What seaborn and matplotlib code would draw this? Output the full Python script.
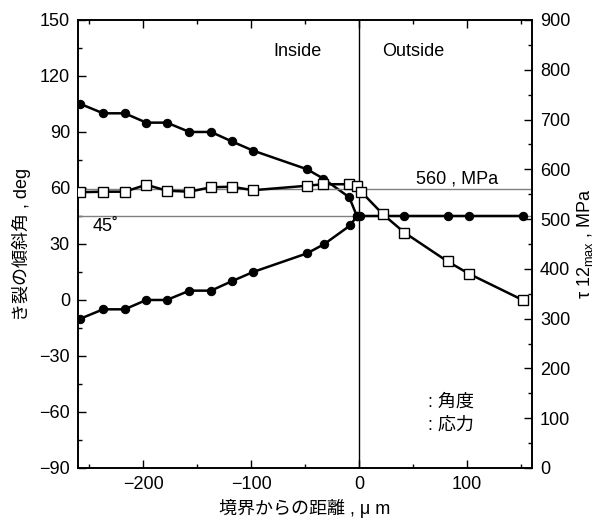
import matplotlib
matplotlib.use("Agg")
import matplotlib.pyplot as plt
from matplotlib.ticker import MultipleLocator
import pandas as pd
import seaborn as sns

# ---- data ----
# crack inclination angle, upper branch (continues along 45 deg outside)
ang_up_x = [-258, -237, -217, -197, -178, -157, -137, -118, -98, -48, -33, -9, -2, 1, 42, 82, 102, 152]
ang_up_y = [105, 100, 100, 95, 95, 90, 90, 85, 80, 70, 65, 55, 45, 45, 45, 45, 45, 45]
# crack inclination angle, lower branch
ang_lo_x = [-258, -237, -217, -197, -178, -157, -137, -118, -98, -48, -32, -8, -2]
ang_lo_y = [-10, -5, -5, 0, 0, 5, 5, 10, 15, 25, 30, 40, 45]
# tau12 max stress, MPa
str_x = [-258, -237, -217, -197, -178, -157, -137, -118, -98, -48, -33, -9, -2, 2, 22, 42, 82, 102, 152]
str_y = [554, 555, 555, 569, 557, 555, 564, 565, 558, 567, 570, 570, 567, 555, 510, 473, 415, 390, 337]

ref_angle = 45
ref_stress = 560

sns.set_theme(style="ticks")
plt.rcParams['font.family'] = ['Liberation Sans', 'Noto Sans CJK JP', 'DejaVu Sans']
plt.rcParams['axes.unicode_minus'] = True
plt.rcParams['text.color'] = 'black'
plt.rcParams['axes.labelcolor'] = 'black'
FS = 13

df_up = pd.DataFrame({"x": ang_up_x, "y": ang_up_y})
df_lo = pd.DataFrame({"x": ang_lo_x, "y": ang_lo_y})
df_st = pd.DataFrame({"x": str_x, "y": str_y})

fig = plt.figure(figsize=(6.0, 5.24), dpi=100)
ax = fig.add_axes([0.1305, 0.1069, 0.7557, 0.855])

ax.axhline(ref_angle, color="#808080", lw=1.0, zorder=1)
ax.axvline(0, color="black", lw=1.0, zorder=1)

for d in (df_up, df_lo):
    sns.lineplot(data=d, x="x", y="y", ax=ax, sort=False, estimator=None,
                 color="black", lw=1.8, marker="o", markersize=6,
                 markerfacecolor="black", markeredgecolor="black", zorder=3)

ax.set_xlim(-260, 160)
ax.set_ylim(-90, 150)
ax.xaxis.set_major_locator(MultipleLocator(100))
ax.xaxis.set_minor_locator(MultipleLocator(50))
ax.yaxis.set_major_locator(MultipleLocator(30))
ax.yaxis.set_minor_locator(MultipleLocator(15))
ax.tick_params(which="both", direction="in", top=True, right=False, labelsize=FS,
               colors="black", width=1.0)
ax.tick_params(which="major", length=6, pad=6)
ax.tick_params(which="minor", length=3)
ax.set_xlabel("境界からの距離 , μ m", fontsize=FS, labelpad=4)
ax.set_ylabel("き裂の傾斜角 , deg", fontsize=FS, labelpad=6)

ax2 = ax.twinx()
ax2.axhline(ref_stress, color="#808080", lw=1.0, zorder=1)
sns.lineplot(data=df_st, x="x", y="y", ax=ax2, sort=False, estimator=None,
             color="black", lw=1.8, marker="s", markersize=7,
             markerfacecolor="white", markeredgecolor="black", markeredgewidth=1.0, zorder=4)
ax2.set_ylim(0, 900)
ax2.yaxis.set_major_locator(MultipleLocator(100))
ax2.yaxis.set_minor_locator(MultipleLocator(50))
ax2.tick_params(which="both", direction="in", labelsize=FS, colors="black", width=1.0)
ax2.tick_params(which="major", length=6, pad=6)
ax2.tick_params(which="minor", length=3)
ax2.set_ylabel(r"τ 12$_{\mathregular{max}}$ , MPa", fontsize=FS, labelpad=3)
ax2.set_xlim(-260, 160)

for a in (ax, ax2):
    for s in a.spines.values():
        s.set_color("black")
        s.set_linewidth(1.2)

ax.text(-57, 133, "Inside", fontsize=FS, ha="center", va="center")
ax.text(50, 133, "Outside", fontsize=FS, ha="center", va="center")
ax.text(-247, 44, "45˚", fontsize=FS, ha="left", va="top")
ax2.text(91, 563, "560 , MPa", fontsize=FS, ha="center", va="bottom")
ax.text(64, -55, ": 角度", fontsize=FS, ha="left", va="center")
ax.text(64, -67, ": 応力", fontsize=FS, ha="left", va="center")

fig.savefig("out.png", dpi=100)
